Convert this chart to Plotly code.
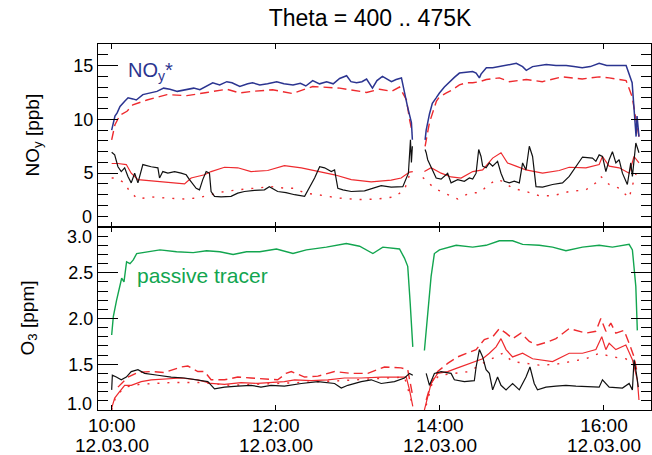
import datetime as dt
import plotly.graph_objects as go

# ---------------- data (time in minutes after 10:00 on 12.03.00) ----------------
# upper panel: NOy [ppb]
NOYSTAR_T1 = [0, 2.4, 4, 6.1, 9.7, 12, 15.5, 18, 22.8, 27, 33.1, 38, 42.6, 48, 55.0, 60, 64.5, 69, 73.9, 79, 84.2, 88, 93.7, 99.5, 103, 108.3, 114, 120.7, 126, 132.6, 138, 142, 147.0, 152, 157.2, 162, 166.7, 171.8, 175, 179.1, 183, 186.4, 190.7, 194, 198.0, 204.6, 208, 211.9, 214.1, 216.3, 219.2, 219.9]
NOYSTAR_V1 = [9.0, 10.3, 10.6, 11.2, 11.7, 12.0, 11.9, 11.8, 12.3, 12.4, 12.6, 12.9, 12.8, 12.6, 12.75, 12.9, 12.75, 13.1, 13.4, 13.2, 13.5, 13.4, 13.05, 13.3, 13.4, 13.2, 13.3, 13.5, 13.3, 13.2, 13.35, 13.1, 13.6, 13.3, 13.5, 13.3, 13.8, 14.05, 13.5, 13.4, 13.5, 13.75, 12.9, 13.6, 14.0, 13.5, 13.7, 13.85, 12.45, 11.2, 9.7, 8.1]
NOYSTAR_T2 = [229.2, 230.0, 232.4, 234.5, 237.3, 239.7, 243.3, 247.0, 250.6, 254.3, 259.2, 264.0, 266.5, 268.9, 270.1, 274.0, 278.6, 283.5, 289.5, 295.9, 300.5, 303.2, 307.8, 312.7, 317.8, 324.9, 332.4, 338, 344.1, 350, 356.5, 362, 368.9, 376.2, 380.6, 382.0, 383.5, 384.2, 385.6]
NOYSTAR_V2 = [8.1, 9.0, 10.5, 11.5, 12.0, 12.45, 13.0, 13.5, 13.9, 14.3, 14.4, 14.45, 14.3, 13.85, 14.2, 14.8, 14.8, 14.9, 15.0, 15.2, 14.9, 14.55, 14.9, 15.0, 15.1, 15.0, 15.0, 14.9, 14.8, 14.9, 15.2, 15.0, 15.0, 15.0, 13.4, 11.2, 8.4, 10.3, 8.4]

NOY_T1 = [0, 2.4, 6.1, 11.2, 15.5, 25.8, 40.4, 55.0, 69.6, 84.2, 93.7, 103.1, 117.7, 132.3, 147.0, 166.7, 186.4, 195.9, 204.6, 210.5, 215.6, 217.8, 219.9]
NOY_V1 = [8.1, 9.5, 10.4, 10.75, 11.35, 11.8, 12.3, 12.2, 12.5, 12.8, 12.45, 12.6, 12.75, 12.4, 13.05, 12.9, 12.5, 12.8, 12.6, 13.0, 11.8, 10.0, 8.75]
NOY_T2 = [229.2, 232.4, 237.5, 239.7, 244.8, 249.1, 254.3, 259.4, 264, 268.9, 274.0, 283.5, 290.8, 303.2, 314.9, 329.4, 344.1, 356.5, 363.8, 376.2, 380.6, 383.5, 385.6]
NOY_V2 = [7.5, 9.7, 11.7, 12.1, 12.45, 12.75, 13.2, 13.4, 13.4, 13.5, 13.7, 13.85, 13.5, 13.7, 13.5, 13.95, 13.75, 13.95, 13.85, 13.6, 12.1, 10.0, 8.4]

NOYB_T1 = [0, 2.2, 4.6, 7.0, 9.5, 11.9, 14.3, 16.8, 19.2, 21.2, 22.8, 28.9, 33.8, 35.0, 37.4, 41.1, 46.0, 50.8, 54.5, 56.9, 61.8, 64.2, 66.6, 69.1, 71.5, 72.7, 75.2, 80.0, 87.3, 92.2, 97.1, 104.4, 111.7, 115.3, 121.4, 127.5, 133.8, 141.1, 144.8, 148.4, 152.1, 155.7, 160.6, 163.0, 165.4, 169.1, 175.2, 184.9, 197.1, 204.4, 212.9, 215.4, 217.0, 218.5, 219.2, 219.9]
NOYB_V1 = [6.95, 6.7, 5.6, 5.15, 5.5, 4.7, 4.1, 5.0, 4.1, 5.15, 5.8, 5.6, 5.5, 4.55, 5.15, 5.0, 5.15, 5.0, 4.85, 4.4, 3.6, 3.45, 4.4, 5.15, 5.0, 3.3, 2.85, 2.8, 2.85, 3.15, 3.3, 3.4, 3.45, 3.75, 3.3, 3.2, 3.0, 2.85, 3.75, 4.55, 5.6, 5.5, 5.15, 5.3, 3.6, 3.45, 3.3, 3.35, 3.85, 3.7, 3.75, 4.55, 5.0, 8.1, 6.0, 7.5]
NOYB_T2 = [229.2, 230.0, 231.1, 233.6, 237.3, 240.9, 245.7, 248.2, 253.0, 257.9, 261.6, 264, 266.5, 268.4, 270.1, 271.3, 273.8, 276.2, 278.6, 282.2, 284.7, 287.1, 290.8, 294.4, 298.1, 300.5, 303.0, 305.4, 307.8, 310.3, 315.1, 322.4, 329.7, 334.6, 339.5, 344.3, 351.6, 354.1, 356.5, 358.9, 361.4, 363.8, 366.2, 368.7, 371.1, 373.5, 377.1, 379.6, 380.8, 383.3, 385.6]
NOYB_V2 = [7.2, 6.9, 6.25, 5.6, 4.55, 4.45, 5.0, 4.1, 4.4, 4.25, 4.55, 4.45, 5.0, 7.2, 6.55, 5.65, 5.5, 5.95, 5.65, 6.1, 5.0, 4.25, 4.1, 4.25, 4.1, 5.95, 5.3, 7.5, 6.55, 3.75, 3.7, 3.95, 4.1, 4.7, 5.65, 6.5, 6.4, 6.1, 6.7, 6.55, 5.15, 6.25, 7.0, 5.95, 6.25, 5.0, 3.95, 5.95, 4.7, 7.8, 6.9]

NOYR_T1 = [0, 4.6, 10.7, 14.3, 19.2, 26.5, 38.7, 53.3, 58.1, 67.9, 72.7, 82.5, 92.2, 101.9, 114.1, 126.3, 138.7, 150.8, 163.0, 175.2, 189.8, 204.4, 211.7, 217.8, 220.2]
NOYR_V1 = [5.9, 5.9, 5.8, 5.0, 4.4, 4.3, 4.15, 4.0, 4.55, 4.85, 5.15, 5.55, 5.5, 5.15, 5.25, 5.7, 5.5, 5.15, 4.85, 4.4, 4.2, 4.35, 4.55, 5.1, 5.15]
NOYR_T2 = [228.7, 233.6, 240.9, 248.2, 255.5, 261.6, 264.0, 271.3, 278.6, 284.7, 289.5, 295.7, 303.0, 315.1, 327.3, 334.6, 346.8, 356.5, 358.9, 363.8, 371.1, 378.4, 382.0, 385.6]
NOYR_V2 = [5.15, 5.5, 5.0, 4.65, 4.55, 5.0, 5.15, 5.3, 6.4, 6.9, 5.95, 5.65, 5.3, 5.0, 5.25, 5.55, 5.5, 5.8, 6.55, 5.65, 5.5, 5.0, 6.55, 5.95]

NOYD_T1 = [0, 3.1, 9.5, 13.1, 19.2, 28.9, 38.7, 53.3, 63.0, 70.3, 82.5, 92.2, 104.4, 116.5, 127.5, 133.8, 141.1, 150.8, 165.4, 180.0, 194.6, 206.8, 214.1, 217.8, 220.2]
NOYD_V1 = [4.55, 4.55, 4.1, 3.3, 2.6, 2.8, 2.7, 2.6, 2.7, 2.9, 3.3, 3.45, 3.6, 3.75, 3.6, 3.6, 3.15, 3.0, 2.7, 2.55, 2.6, 2.8, 3.45, 4.85, 5.3]
NOYD_T2 = [227.5, 236.0, 243.3, 253.0, 261.6, 268.9, 276.2, 281.1, 285.9, 293.2, 303.0, 312.7, 322.4, 334.6, 346.8, 354.1, 357.7, 363.8, 371.1, 378.4, 382.0, 384.4]
NOYD_V2 = [4.6, 3.6, 3.15, 2.6, 3.15, 3.2, 3.95, 4.4, 4.25, 3.6, 3.3, 2.9, 2.9, 3.3, 3.45, 4.1, 4.7, 3.95, 3.6, 2.7, 4.4, 5.3]

# lower panel: O3 [ppm]
TRC_T1 = [0, 1.2, 3.6, 5.5, 7.3, 9.0, 10.9, 13.4, 15.8, 18.3, 25.5, 35.3, 47.5, 59.6, 69.4, 79.1, 88.8, 98.6, 108.3, 120.5, 132.6, 142.4, 157.0, 166.7, 171.6, 181.3, 191.0, 198.3, 210.5, 214.1, 216.5, 218.3, 220.2]
TRC_V1 = [1.82, 2.02, 2.2, 2.31, 2.44, 2.40, 2.62, 2.60, 2.64, 2.71, 2.73, 2.75, 2.73, 2.72, 2.74, 2.73, 2.70, 2.73, 2.73, 2.76, 2.71, 2.75, 2.78, 2.81, 2.82, 2.79, 2.71, 2.78, 2.76, 2.66, 2.57, 2.17, 1.69]
TRC_T2 = [228.7, 230.0, 232.4, 233.6, 236.0, 239.7, 251.9, 264.0, 273.8, 283.5, 293.2, 300.5, 312.7, 322.4, 332.2, 344.3, 356.5, 366.2, 378.4, 380.8, 383.3, 384.4]
TRC_V2 = [1.65, 1.87, 2.35, 2.46, 2.71, 2.75, 2.80, 2.78, 2.80, 2.85, 2.85, 2.81, 2.80, 2.78, 2.74, 2.78, 2.80, 2.78, 2.81, 2.75, 2.35, 1.87]

O3B_T1 = [0, 0.5, 3.4, 7.0, 10.7, 14.3, 19.2, 24.1, 33.8, 43.5, 53.3, 63.0, 70.3, 75.2, 82.5, 92.2, 101.9, 109.2, 116.5, 126.3, 138.7, 150.8, 163.0, 167.9, 172.7, 182.5, 189.8, 197.1, 206.8, 214.1, 217.8, 220.2]
O3B_V1 = [1.22, 1.38, 1.36, 1.33, 1.36, 1.42, 1.44, 1.40, 1.38, 1.36, 1.35, 1.33, 1.31, 1.23, 1.25, 1.26, 1.27, 1.25, 1.27, 1.26, 1.29, 1.31, 1.29, 1.24, 1.27, 1.31, 1.33, 1.29, 1.31, 1.35, 1.40, 1.38]
O3B_T2 = [230.0, 232.4, 236.0, 240.9, 248.2, 250.6, 257.9, 265.2, 266.5, 268.9, 271.3, 273.8, 276.2, 278.6, 282.2, 284.7, 288.4, 293.2, 298.1, 303.0, 305.9, 309.0, 311.4, 317.6, 324.9, 332.2, 339.5, 349.2, 356.5, 358.9, 363.8, 373.5, 378.4, 380.8, 382.0, 383.7, 385.1]
O3B_V2 = [1.40, 1.27, 1.40, 1.42, 1.40, 1.33, 1.31, 1.32, 1.47, 1.66, 1.58, 1.44, 1.40, 1.22, 1.36, 1.27, 1.22, 1.29, 1.22, 1.36, 1.47, 1.29, 1.22, 1.25, 1.26, 1.27, 1.26, 1.25, 1.25, 1.33, 1.25, 1.24, 1.29, 1.22, 1.55, 1.40, 1.25]

O3R_T1 = [0, 2.2, 5.8, 9.5, 14.3, 21.6, 28.9, 38.7, 50.8, 63.0, 72.7, 82.5, 94.6, 106.8, 116.5, 126.3, 133.8, 146.0, 158.1, 170.3, 182.5, 197.1, 209.2, 215.4, 217.8, 220.2]
O3R_V1 = [1.02, 1.13, 1.20, 1.27, 1.27, 1.31, 1.33, 1.34, 1.35, 1.33, 1.29, 1.28, 1.30, 1.29, 1.30, 1.31, 1.33, 1.32, 1.33, 1.35, 1.35, 1.36, 1.36, 1.36, 1.22, 1.04]
O3R_T2 = [228.7, 231.1, 233.6, 238.4, 245.7, 253.0, 261.6, 271.3, 276.2, 281.1, 284.7, 288.4, 293.2, 300.5, 307.8, 312.7, 322.4, 334.6, 344.3, 354.1, 358.4, 361.4, 363.8, 368.7, 376.0, 380.8, 384.4, 385.6]
O3R_V2 = [1.00, 1.15, 1.29, 1.40, 1.42, 1.46, 1.51, 1.56, 1.62, 1.69, 1.78, 1.66, 1.58, 1.62, 1.56, 1.55, 1.53, 1.62, 1.62, 1.66, 1.80, 1.66, 1.73, 1.66, 1.71, 1.55, 1.33, 1.11]

O3DA_T1 = [4.6, 11.9, 19.2, 28.9, 38.7, 50.8, 55.7, 63.0, 67.9, 72.7, 82.5, 92.2, 101.9, 111.7, 121.4, 127.5, 131.4, 141.1, 150.8, 163.0, 175.2, 187.3, 199.5, 211.7, 216.5, 220.2]
O3DA_V1 = [1.25, 1.36, 1.41, 1.42, 1.41, 1.47, 1.48, 1.42, 1.42, 1.33, 1.33, 1.36, 1.35, 1.34, 1.33, 1.40, 1.42, 1.36, 1.37, 1.42, 1.40, 1.40, 1.47, 1.46, 1.44, 1.15]
O3DA_T2 = [230.0, 233.6, 238.4, 245.7, 253.0, 259.2, 266.5, 272.5, 278.6, 283.5, 288.4, 293.2, 299.3, 305.4, 311.4, 320.0, 324.9, 334.6, 339.5, 346.8, 354.1, 357.7, 361.4, 365.0, 368.7, 374.7, 378.4, 382.0, 384.4]
O3DA_V2 = [1.11, 1.29, 1.42, 1.51, 1.58, 1.62, 1.66, 1.77, 1.80, 1.89, 1.84, 1.78, 1.84, 1.75, 1.71, 1.75, 1.78, 1.89, 1.87, 1.84, 1.86, 2.00, 1.86, 1.95, 1.84, 1.87, 1.73, 1.58, 1.40]

O3DO_T1 = [0, 3.1, 9.7, 20.5, 42.6, 64.5, 86.4, 108.3, 137.5, 166.7, 195.9, 214.1, 219.2]
O3DO_V1 = [1.00, 1.15, 1.25, 1.28, 1.30, 1.30, 1.27, 1.28, 1.30, 1.32, 1.34, 1.36, 1.10]
O3DO_T2 = [230.0, 234.5, 239.7, 250.6, 261.6, 271.3, 285.9, 293.2, 303.0, 312.7, 324.9, 334.6, 346.8, 356.5, 366.2, 376.0, 383.3]
O3DO_V2 = [1.05, 1.30, 1.38, 1.40, 1.42, 1.51, 1.62, 1.53, 1.51, 1.49, 1.50, 1.53, 1.56, 1.62, 1.58, 1.56, 1.47]

TICK_HOURS = [10, 12, 14, 16]
TICK_TIME = ["10:00", "12:00", "14:00", "16:00"]
TICK_DATE = ["12.03.00", "12.03.00", "12.03.00", "12.03.00"]

# ---------------- figure ----------------
BASE = dt.datetime(2000, 3, 12, 10, 0)
FONT = "Liberation Sans, Arial, Helvetica, sans-serif"
BLUE, RED, GREEN, BLACK = "#2b3490", "#ee2a2e", "#12a54f", "#111111"


def tm(m):
    return BASE + dt.timedelta(minutes=m)


def join(t1, v1, t2, v2):
    x = [tm(m) for m in t1] + [None] + [tm(m) for m in t2]
    y = list(v1) + [None] + list(v2)
    return x, y


fig = go.Figure()


def add(t1, v1, t2, v2, color, dash, yaxis, width=1.4):
    x, y = join(t1, v1, t2, v2)
    fig.add_trace(go.Scatter(x=x, y=y, mode="lines", xaxis="x" if yaxis == "y" else "x2",
                             yaxis=yaxis, line=dict(color=color, width=width, dash=dash),
                             showlegend=False, hoverinfo="skip"))


# upper panel
add(NOYD_T1, NOYD_V1, NOYD_T2, NOYD_V2, RED, "2px,8px", "y")
add(NOYR_T1, NOYR_V1, NOYR_T2, NOYR_V2, RED, "solid", "y", 1.2)
add(NOYB_T1, NOYB_V1, NOYB_T2, NOYB_V2, BLACK, "solid", "y", 1.2)
add(NOY_T1, NOY_V1, NOY_T2, NOY_V2, RED, "9px,5px", "y")
add(NOYSTAR_T1, NOYSTAR_V1, NOYSTAR_T2, NOYSTAR_V2, BLUE, "solid", "y", 1.5)
# lower panel
add(O3DO_T1, O3DO_V1, O3DO_T2, O3DO_V2, RED, "2px,8px", "y2")
add(O3R_T1, O3R_V1, O3R_T2, O3R_V2, RED, "solid", "y2", 1.2)
add(O3DA_T1, O3DA_V1, O3DA_T2, O3DA_V2, RED, "9px,5px", "y2")
add(O3B_T1, O3B_V1, O3B_T2, O3B_V2, BLACK, "solid", "y2", 1.2)
add(TRC_T1, TRC_V1, TRC_T2, TRC_V2, GREEN, "solid", "y2", 1.4)

xr = [tm(-10.0), tm(394.4)]
tickx = [BASE + dt.timedelta(hours=h - 10) for h in TICK_HOURS]
axis_common = dict(showline=True, linecolor="black", linewidth=1, mirror="allticks",
                   ticks="inside", tickcolor="black", showgrid=False, zeroline=False,
                   automargin=False,
                   tickfont=dict(family=FONT, size=19, color="black"))

fig.update_layout(
    template="none",
    width=652, height=455,
    margin=dict(l=98, r=1, t=44, b=45, autoexpand=False),
    paper_bgcolor="white", plot_bgcolor="white",
    font=dict(family=FONT, color="black"),
    title=dict(text="Theta = 400 .. 475K", x=370 / 652, xref="container", xanchor="center",
               y=1 - 18 / 455, yref="container", yanchor="middle", automargin=False,
               font=dict(family=FONT, size=23, color="black")),
    xaxis=dict(axis_common, type="date", range=xr, domain=[0, 1], anchor="y",
               tickvals=tickx, ticktext=TICK_TIME, showticklabels=False, ticklen=5),
    xaxis2=dict(axis_common, type="date", range=xr, domain=[0, 1], anchor="y2", matches="x",
                tickvals=tickx, ticktext=TICK_TIME, ticklen=5, ticklabelstandoff=-2),
    yaxis=dict(axis_common, domain=[0.5, 1], range=[0, 17], tickvals=[0, 5, 10, 15],
               ticktext=["", "5", "10", "15"], ticklen=20, tickfont=dict(family=FONT, size=18),
               minor=dict(dtick=1, tick0=0, ticklen=10, ticks="inside", tickcolor="black")),
    yaxis2=dict(axis_common, domain=[0, 0.5], range=[1, 3], tickvals=[1.0, 1.5, 2.0, 2.5, 3.0],
                ticktext=["", "1.5", "2.0", "2.5", ""], ticklen=20, tickfont=dict(family=FONT, size=18),
                minor=dict(dtick=0.1, tick0=1, ticklen=10, ticks="inside", tickcolor="black")),
)

ann = []
# end tick labels, nudged off the shared border as in the original
for txt, yref, yv, ys in [("0", "y", 0, 11), ("3.0", "y2", 3.0, -9), ("1.0", "y2", 1.0, 7)]:
    ann.append(dict(text=txt, xref="paper", x=0, xanchor="right", xshift=-5, yref=yref, y=yv,
                    yanchor="middle", yshift=ys, showarrow=False, height=15, borderpad=0,
                    font=dict(family=FONT, size=18, color="black")))
# date line under the time ticks
for tx, d in zip(tickx, TICK_DATE):
    ann.append(dict(text=d, xref="x2", x=tx, xanchor="center", yref="paper", y=0,
                    yanchor="middle", yshift=-35, showarrow=False,
                    font=dict(family=FONT, size=19, color="black")))
# axis titles
ann.append(dict(text="NO<sub>y</sub> [ppb]", xref="paper", x=0, xshift=-65, yref="paper", y=0.75,
                textangle=-90, showarrow=False, xanchor="center", yanchor="middle",
                font=dict(family=FONT, size=19, color="black")))
ann.append(dict(text="O<sub>3</sub> [ppm]", xref="paper", x=0, xshift=-70, yref="paper", y=0.25,
                textangle=-90, showarrow=False, xanchor="center", yanchor="middle",
                font=dict(family=FONT, size=19, color="black")))
# in-plot labels
ann.append(dict(text="NO<sub>y</sub>*", xref="x", x=tm(10.4), xanchor="left", yref="y", y=14.4,
                yanchor="middle", showarrow=False, font=dict(family=FONT, size=20, color=BLUE)))
ann.append(dict(text="passive tracer", xref="x2", x=tm(17.0), xanchor="left", yref="y2", y=2.47,
                yanchor="middle", showarrow=False, font=dict(family=FONT, size=21, color=GREEN)))
fig.update_layout(annotations=ann)

fig.write_html("out.html", config={"displayModeBar": False},
               post_script="document.body.style.margin='0';document.body.style.padding='0';")
